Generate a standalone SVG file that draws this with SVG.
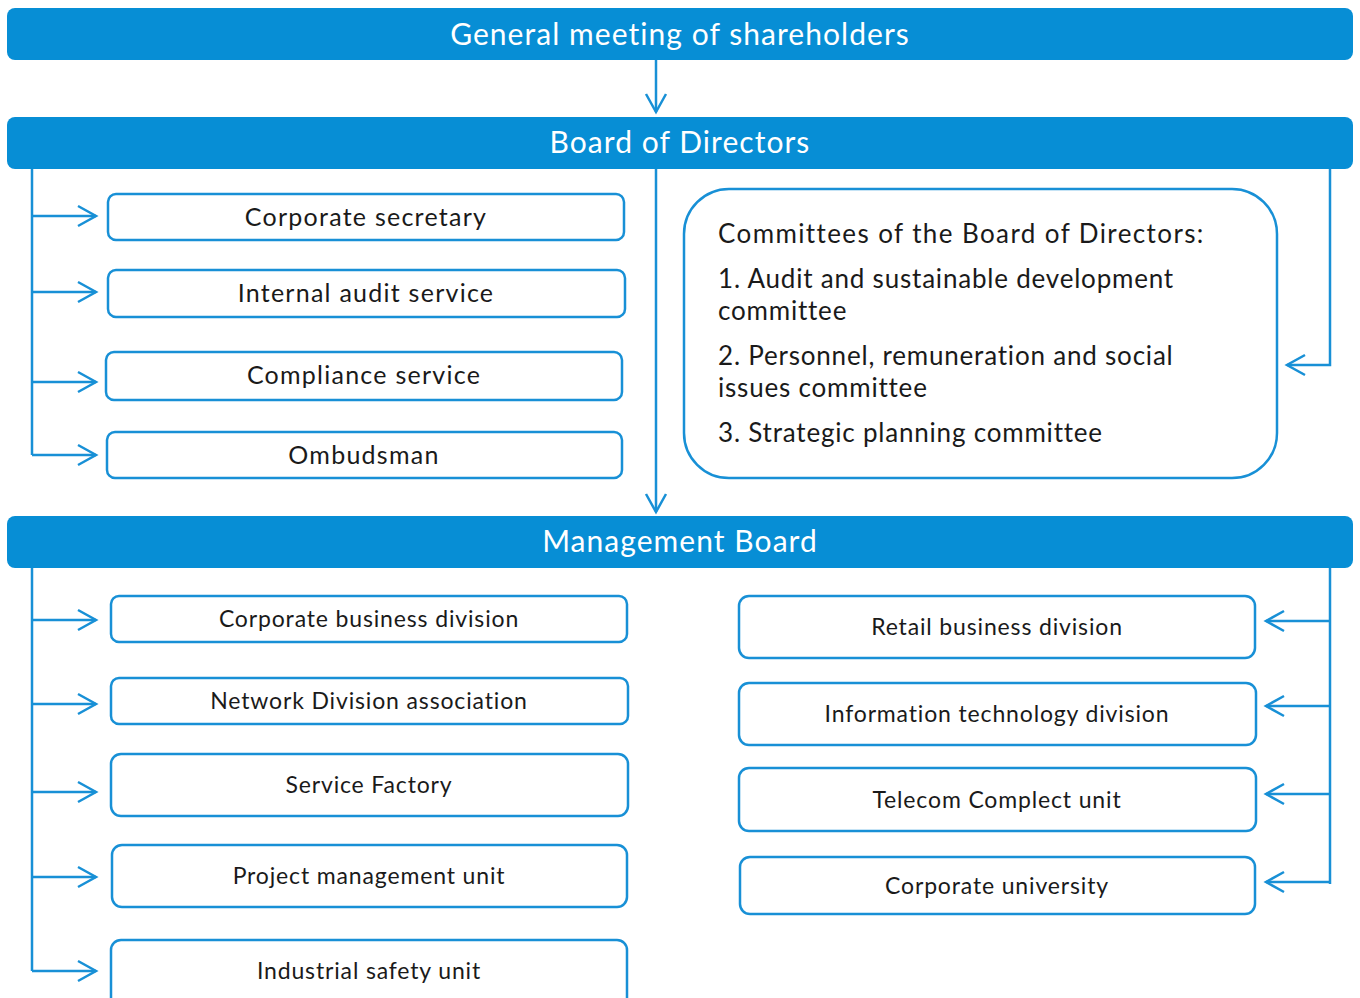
<svg xmlns="http://www.w3.org/2000/svg" width="1360" height="998" viewBox="0 0 1360 998">
<style>
.bar{fill:#078ED5}
.bart{fill:#ffffff;font-family:Lato,"Noto Sans",sans-serif;font-size:30px;letter-spacing:1.05px;text-anchor:middle}
.box{fill:#ffffff;stroke:#1890D6;stroke-width:2.5}
.t{fill:#1a1a1a;font-family:Lato,"Noto Sans",sans-serif;font-size:25px;letter-spacing:1.25px;text-anchor:middle}
.s{fill:#1a1a1a;font-family:Lato,"Noto Sans",sans-serif;font-size:23px;letter-spacing:0.85px;text-anchor:middle}
.c{fill:#1a1a1a;font-family:Lato,"Noto Sans",sans-serif;font-size:26px;letter-spacing:0.8px}
.ct{letter-spacing:1.4px}
.ln{fill:none;stroke:#1890D6;stroke-width:2.5}
</style>
<defs>
<marker id="ar" markerUnits="userSpaceOnUse" viewBox="-22 -13 26 26" markerWidth="26" markerHeight="26" refX="0" refY="0" orient="auto">
<path d="M-18,-10 L0,0 L-18,10" fill="none" stroke="#1890D6" stroke-width="2.5"/>
</marker>
</defs>
<rect width="1360" height="998" fill="#ffffff"/>
<g id="connectors" class="ln">
<path d="M656,60 V112" marker-end="url(#ar)"/>
<path d="M656,169 V512" marker-end="url(#ar)"/>
<path d="M32,169 V455"/>
<path d="M32,216 H96" marker-end="url(#ar)"/>
<path d="M32,292 H96" marker-end="url(#ar)"/>
<path d="M32,382 H96" marker-end="url(#ar)"/>
<path d="M32,455 H96" marker-end="url(#ar)"/>
<path d="M1330,169 V365 H1287" marker-end="url(#ar)"/>
<path d="M32,568 V971"/>
<path d="M32,620 H96" marker-end="url(#ar)"/>
<path d="M32,704 H96" marker-end="url(#ar)"/>
<path d="M32,792 H96" marker-end="url(#ar)"/>
<path d="M32,877 H96" marker-end="url(#ar)"/>
<path d="M32,971 H96" marker-end="url(#ar)"/>
<path d="M1330,568 V884"/>
<path d="M1330,621 H1266" marker-end="url(#ar)"/>
<path d="M1330,706 H1266" marker-end="url(#ar)"/>
<path d="M1330,794 H1266" marker-end="url(#ar)"/>
<path d="M1330,882 H1266" marker-end="url(#ar)"/>
</g>
<g id="gms"><rect class="bar" x="7" y="8" width="1346" height="52" rx="8"/><text class="bart" x="680" y="45">General meeting of shareholders</text></g>
<g id="bod"><rect class="bar" x="7" y="117" width="1346" height="52" rx="8"/><text class="bart" x="680" y="153">Board of Directors</text></g>
<g id="mb"><rect class="bar" x="7" y="516" width="1346" height="52" rx="8"/><text class="bart" x="680" y="552">Management Board</text></g>
<g id="corpsec"><rect class="box" x="108" y="194" width="516" height="46" rx="8"/><text class="t" x="366" y="226">Corporate secretary</text></g>
<g id="audit"><rect class="box" x="108" y="270" width="517" height="47" rx="8"/><text class="t" x="366" y="302">Internal audit service</text></g>
<g id="compliance"><rect class="box" x="106" y="352" width="516" height="48" rx="8"/><text class="t" x="364" y="384">Compliance service</text></g>
<g id="ombudsman"><rect class="box" x="107" y="432" width="515" height="46" rx="8"/><text class="t" x="364" y="464">Ombudsman</text></g>
<g id="committees"><rect class="box" x="684" y="189" width="593" height="289" rx="45"/>
<text class="c ct" x="718" y="243">Committees of the Board of Directors:</text>
<text class="c" x="718" y="288">1. Audit and sustainable development</text>
<text class="c" x="718" y="320">committee</text>
<text class="c" x="718" y="365">2. Personnel, remuneration and social</text>
<text class="c" x="718" y="397">issues committee</text>
<text class="c" x="718" y="442">3. Strategic planning committee</text>
</g>
<g id="corpbiz"><rect class="box" x="111" y="596" width="516" height="46" rx="8"/><text class="s" x="369" y="627">Corporate business division</text></g>
<g id="network"><rect class="box" x="111" y="678" width="517" height="46" rx="8"/><text class="s" x="369" y="709">Network Division association</text></g>
<g id="servicefactory"><rect class="box" x="111" y="754" width="517" height="62" rx="10"/><text class="s" x="369" y="793">Service Factory</text></g>
<g id="pmu"><rect class="box" x="112" y="845" width="515" height="62" rx="10"/><text class="s" x="369" y="884">Project management unit</text></g>
<g id="safety"><rect class="box" x="111" y="940" width="516" height="72" rx="10"/><text class="s" x="369" y="979">Industrial safety unit</text></g>
<g id="retail"><rect class="box" x="739" y="596" width="516" height="62" rx="10"/><text class="s" x="997" y="635">Retail business division</text></g>
<g id="it"><rect class="box" x="739" y="683" width="517" height="62" rx="10"/><text class="s" x="997" y="722">Information technology division</text></g>
<g id="telecom"><rect class="box" x="739" y="768" width="517" height="63" rx="10"/><text class="s" x="997" y="808">Telecom Complect unit</text></g>
<g id="university"><rect class="box" x="740" y="857" width="515" height="57" rx="10"/><text class="s" x="997" y="894">Corporate university</text></g>
</svg>
